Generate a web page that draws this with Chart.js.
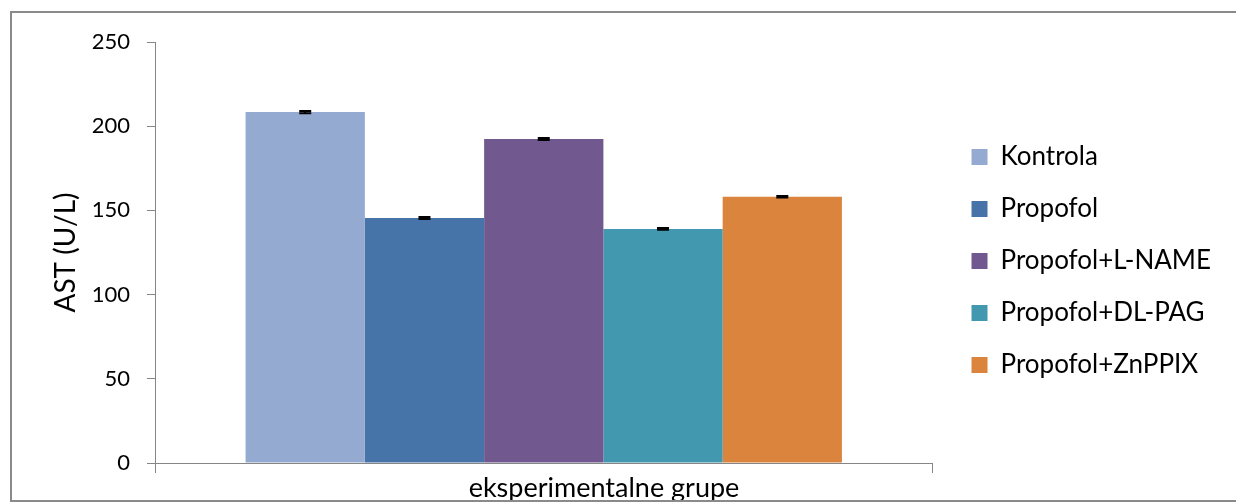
<!DOCTYPE html>
<html>
<head>
<meta charset="utf-8">
<script src="https://cdn.jsdelivr.net/npm/chart.js@4.4.1/dist/chart.umd.min.js"></script>
<style>
  html, body { margin: 0; padding: 0; background: #fff; overflow: hidden; }
  #wrap { position: relative; width: 1236px; height: 502px; }
  #frame { position: absolute; left: 10px; top: 11px; width: 1300px; height: 491px;
           border: 2px solid #8a8a8a; box-sizing: border-box; pointer-events: none; }
</style>
</head>
<body>
<div id="wrap">
  <canvas id="c"></canvas>
  <div id="frame"></div>
</div>
<script>
const categories = [''];
const seriesNames = ['Kontrola', 'Propofol', 'Propofol+L-NAME', 'Propofol+DL-PAG', 'Propofol+ZnPPIX'];
const seriesValues = [208.4, 145.5, 192.4, 139.0, 158.1];
const seriesErrors = [0.7, 0.6, 0.6, 0.5, 0.5];
const seriesColors = ['#95aad0', '#4673a8', '#71588f', '#4298af', '#db843d'];
const yTicks = [0, 50, 100, 150, 200, 250];
const yTitle = 'AST (U/L)';
const xTitle = 'eksperimentalne grupe';

const AXIS = '#868686';
const FONT = 'Lato';

const errorBars = {
  id: 'errorBars',
  afterDatasetsDraw(chart) {
    const ctx = chart.ctx;
    const y = chart.scales.y;
    ctx.save();
    ctx.strokeStyle = '#000';
    ctx.lineWidth = 2;
    chart.data.datasets.forEach((ds, i) => {
      const meta = chart.getDatasetMeta(i);
      meta.data.forEach((bar, j) => {
        const v = ds.data[j], e = ds.errors[j];
        const yHi = y.getPixelForValue(v + e), yLo = y.getPixelForValue(v - e);
        ctx.beginPath();
        ctx.moveTo(bar.x, yHi); ctx.lineTo(bar.x, yLo);
        ctx.moveTo(bar.x - 6, yHi); ctx.lineTo(bar.x + 6, yHi);
        ctx.moveTo(bar.x - 6, yLo); ctx.lineTo(bar.x + 6, yLo);
        ctx.stroke();
      });
    });
    ctx.restore();
  }
};

const nudge = {
  id: 'nudge',
  afterLayout(chart) {
    const lg = chart.legend;
    if (lg) { lg.left += 13; lg.right += 13; lg.top -= 11; lg.bottom -= 11; }
    const t = chart.titleBlock;
    if (t) { t.left -= 20; t.right -= 20; }
  }
};

new Chart(document.getElementById('c'), {
  type: 'bar',
  data: {
    labels: categories,
    datasets: seriesNames.map((name, i) => ({
      label: name,
      data: [seriesValues[i]],
      errors: [seriesErrors[i]],
      backgroundColor: seriesColors[i],
      borderWidth: 0,
      categoryPercentage: 0.767,
      barPercentage: 1.0
    }))
  },
  options: {
    responsive: true,
    maintainAspectRatio: false,
    animation: false,
    layout: { padding: { left: 40, right: 28, top: 42, bottom: 0 } },
    plugins: {
      tooltip: { enabled: false },
      legend: {
        position: 'right',
        align: 'center',
        labels: {
          boxWidth: 16, boxHeight: 16, padding: 26,
          color: '#000',
          font: { family: FONT, size: 26 }
        }
      },
      title: {
        display: true,
        position: 'bottom',
        text: xTitle,
        color: '#000',
        padding: 0,
        font: { family: FONT, size: 27, weight: 'normal', lineHeight: 1.0 }
      }
    },
    scales: {
      x: {
        grid: { display: true, drawOnChartArea: false, offset: true, color: AXIS, tickLength: 10, lineWidth: 1 },
        border: { display: true, color: AXIS, width: 1 },
        ticks: { display: true, padding: 0 },
        afterFit(s) { s.height = 12; }
      },
      y: {
        min: 0, max: 250,
        afterBuildTicks(s) { s.ticks = yTicks.map(v => ({ value: v })); },
        grid: { display: true, drawOnChartArea: false, color: AXIS, tickLength: 8, lineWidth: 1 },
        border: { display: true, color: AXIS, width: 1 },
        ticks: { color: '#000', padding: 17, font: { family: FONT, size: 22 } },
        title: { display: true, text: yTitle, color: '#000', padding: { top: 9, bottom: 0 },
                 font: { family: FONT, size: 28 } },
        afterFit(s) { s.width = 115; }
      }
    }
  },
  plugins: [errorBars, nudge]
});
</script>
</body>
</html>
